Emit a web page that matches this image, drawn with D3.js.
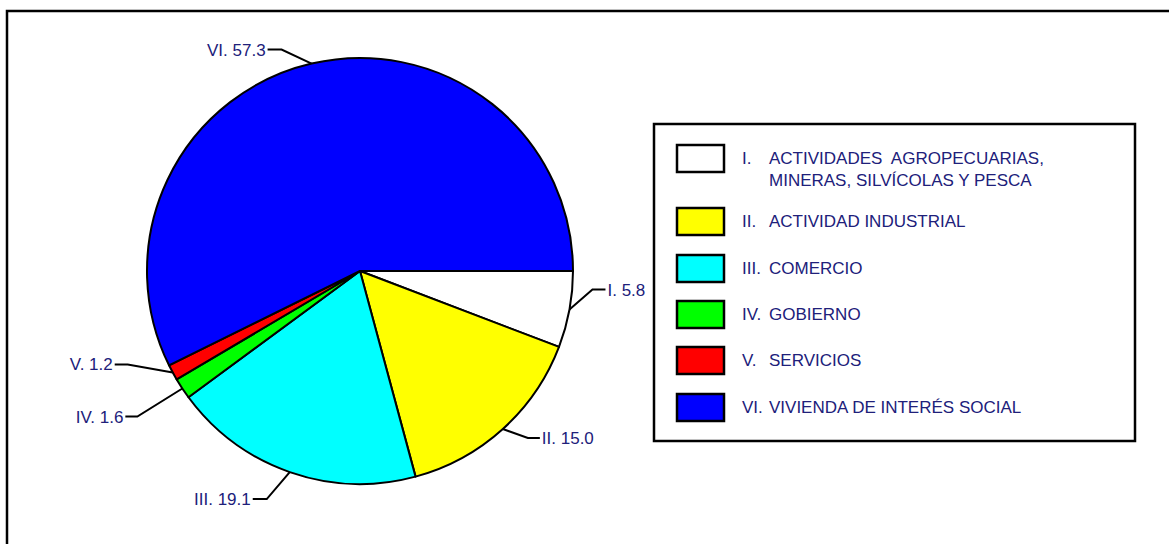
<!DOCTYPE html>
<html lang="es">
<head>
    <meta charset="UTF-8">
    <title>Pie</title>
    <script src="https://d3js.org/d3.v7.min.js"></script>
    <style>
        body { margin: 0; background: #fff; }
        text { font-family: Arial, "Liberation Sans", sans-serif; fill: #20207a; }
    </style>
</head>
<body>
<div id="chart"></div>
<script>
    // Data
    const numerals = ["I.", "II.", "III.", "IV.", "V.", "VI."];
    const values = [5.8, 15.0, 19.1, 1.6, 1.2, 57.3];
    const legendLines = [
        ["ACTIVIDADES  AGROPECUARIAS,", "MINERAS, SILVÍCOLAS Y PESCA"],
        ["ACTIVIDAD INDUSTRIAL"],
        ["COMERCIO"],
        ["GOBIERNO"],
        ["SERVICIOS"],
        ["VIVIENDA DE INTERÉS SOCIAL"]
    ];
    const colors = ["#ffffff", "#ffff00", "#00ffff", "#00ff00", "#ff0000", "#0000ff"];

    // Leader line elbows relative to the arc anchor, and which side the text goes
    const elbows = [[23, -20], [25, 9], [-23, 27], [-45, 28], [-45, -8], [-30, -14]];
    const tails = [13, 12, -14, -12, -13, -14];

    const W = 1169, H = 544;
    const cx = 360, cy = 271, r = 213;

    const svg = d3.select("#chart").append("svg")
        .attr("width", W)
        .attr("height", H);

    // Outer frame (only top & left visible)
    svg.append("path")
        .attr("d", "M7," + H + " V11 H" + W)
        .attr("fill", "none")
        .attr("stroke", "#000")
        .attr("stroke-width", 2.5);

    const pie = d3.pie()
        .sort(null)
        .startAngle(Math.PI / 2)
        .endAngle(Math.PI / 2 + 2 * Math.PI);

    const arcs = pie(values);
    const arc = d3.arc().innerRadius(0).outerRadius(r);

    const g = svg.append("g").attr("transform", "translate(" + cx + "," + cy + ")");

    g.selectAll("path.slice")
        .data(arcs)
        .enter().append("path")
        .attr("class", "slice")
        .attr("d", arc)
        .attr("fill", (d, i) => colors[i])
        .attr("stroke", "#000")
        .attr("stroke-width", 2)
        .attr("stroke-linejoin", "round");

    // Labels with leader lines
    arcs.forEach(function(d, i) {
        const a = (d.startAngle + d.endAngle) / 2;
        const ax = Math.sin(a) * r, ay = -Math.cos(a) * r;
        const ex = ax + elbows[i][0], ey = ay + elbows[i][1];
        const tx = ex + tails[i];
        g.append("path")
            .attr("d", "M" + ax + "," + ay + " L" + ex + "," + ey + " L" + tx + "," + ey)
            .attr("fill", "none")
            .attr("stroke", "#000")
            .attr("stroke-width", 2);
        const right = tails[i] > 0;
        g.append("text")
            .attr("x", tx + (right ? 2 : -2))
            .attr("y", ey + 6)
            .attr("text-anchor", right ? "start" : "end")
            .style("font-size", "17px")
            .text(numerals[i] + " " + values[i].toFixed(1));
    });

    // Legend
    svg.append("rect")
        .attr("x", 654).attr("y", 124)
        .attr("width", 481).attr("height", 317)
        .attr("fill", "#fff")
        .attr("stroke", "#000")
        .attr("stroke-width", 2.5);

    const legendY = [145, 208, 255, 301, 347, 394];
    const leg = svg.append("g");
    numerals.forEach(function(n, i) {
        leg.append("rect")
            .attr("x", 677).attr("y", legendY[i])
            .attr("width", 47).attr("height", 27)
            .attr("fill", colors[i])
            .attr("stroke", "#000")
            .attr("stroke-width", 2.5);
        leg.append("text")
            .attr("x", 742).attr("y", legendY[i] + 19)
            .style("font-size", "17px")
            .text(n);
        legendLines[i].forEach(function(line, j) {
            leg.append("text")
                .attr("x", 769).attr("y", legendY[i] + 19 + j * 22)
                .style("font-size", "17px")
                .style("white-space", "pre")
                .attr("xml:space", "preserve")
                .text(line);
        });
    });
</script>
</body>
</html>
